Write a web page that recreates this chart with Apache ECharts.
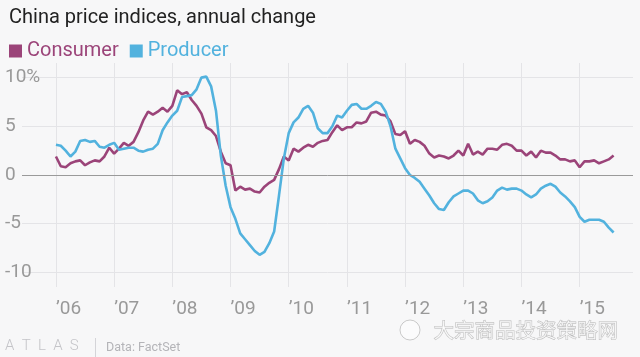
<!DOCTYPE html>
<html><head><meta charset="utf-8">
<script src="https://cdn.jsdelivr.net/npm/echarts@6/dist/echarts.min.js"></script>
<style>html,body{margin:0;padding:0;background:#f7f7f8}#c{width:640px;height:357px}</style>
</head><body><div id="c"></div>
<script>
// Axis spans Jun 2005 .. Dec 2015 (monthly categories); data start Jan 2006
const axisStartYear = 2005, axisStartMonth = 6, axisMonths = 127;
const dataStartYear = 2006, dataStartMonth = 1;

// Consumer price index, annual change (%), Jan 2006 .. Aug 2015
const consumer = [
 1.9,0.9,0.8,1.2,1.4,1.5,1.0,1.3,1.5,1.4,1.9,2.8,
 2.2,2.7,3.3,3.0,3.4,4.4,5.6,6.5,6.2,6.5,6.9,6.5,
 7.1,8.7,8.3,8.5,7.7,7.1,6.3,4.9,4.6,4.0,2.4,1.2,
 1.0,-1.6,-1.2,-1.5,-1.4,-1.7,-1.8,-1.2,-0.8,-0.5,0.6,1.9,
 1.5,2.7,2.4,2.8,3.1,2.9,3.3,3.5,3.6,4.4,5.1,4.6,
 4.9,4.9,5.4,5.3,5.5,6.4,6.5,6.2,6.1,5.5,4.2,4.1,
 4.5,3.2,3.6,3.4,3.0,2.2,1.8,2.0,1.9,1.7,2.0,2.5,
 2.0,3.2,2.1,2.4,2.1,2.7,2.7,2.6,3.1,3.2,3.0,2.5,
 2.5,2.0,2.4,1.8,2.5,2.3,2.3,2.0,1.6,1.6,1.4,1.5,
 0.8,1.4,1.4,1.5,1.2,1.4,1.6,2.0
];
// Producer price index, annual change (%), Jan 2006 .. Aug 2015
const producer = [
 3.1,3.0,2.5,1.9,2.4,3.5,3.6,3.4,3.5,2.9,2.8,3.1,
 3.3,2.6,2.7,2.8,2.8,2.5,2.4,2.6,2.7,3.2,4.6,5.4,
 6.1,6.6,8.0,8.1,8.2,8.8,10.0,10.1,9.1,6.6,2.0,-1.1,
 -3.3,-4.5,-6.0,-6.6,-7.2,-7.8,-8.2,-7.9,-7.0,-5.8,-2.1,1.7,
 4.3,5.4,5.9,6.8,7.1,6.4,4.8,4.3,4.3,5.0,6.1,5.9,
 6.6,7.2,7.3,6.8,6.8,7.1,7.5,7.3,6.5,5.0,2.7,1.7,
 0.7,0.0,-0.3,-0.7,-1.4,-2.1,-2.9,-3.5,-3.6,-2.8,-2.2,-1.9,
 -1.6,-1.6,-1.9,-2.6,-2.9,-2.7,-2.3,-1.6,-1.3,-1.5,-1.4,-1.4,
 -1.6,-2.0,-2.3,-2.0,-1.4,-1.1,-0.9,-1.2,-1.8,-2.2,-2.7,-3.3,
 -4.3,-4.8,-4.6,-4.6,-4.6,-4.8,-5.4,-5.9
];
const yTickLabels = {"10": "10%", "5": "5", "0": "0", "-5": "-5", "-10": "-10"};

const months = [];
for (let i = 0; i < axisMonths; i++) {
  const m = axisStartMonth - 1 + i;
  const y = axisStartYear + Math.floor(m / 12);
  const mm = (m % 12) + 1;
  months.push(y + '-' + (mm < 10 ? '0' : '') + mm);
}
const offset = (dataStartYear - axisStartYear) * 12 + (dataStartMonth - axisStartMonth);
const pad = arr => new Array(offset).fill(null).concat(arr);
const isJan = (idx, val) => String(val).slice(5) === '01';

const PURPLE = '#9b4479', BLUE = '#52b2de';
const chart = echarts.init(document.getElementById('c'), null, {renderer: 'canvas'});
const FONT = 'Roboto';
chart.setOption({
  animation: false,
  backgroundColor: '#f7f7f8',
  textStyle: {fontFamily: FONT},
  title: {
    text: 'China price indices, annual change',
    left: 4, top: 3,
    textStyle: {fontSize: 20, fontWeight: 'normal', color: '#222', fontFamily: FONT}
  },
  legend: {
    left: 4, top: 36, itemWidth: 13, itemHeight: 13, itemGap: 11,
    icon: 'rect', selectedMode: false,
    textStyle: {fontSize: 20, fontFamily: FONT},
    data: [
      {name: 'Consumer', itemStyle: {color: PURPLE}, textStyle: {color: PURPLE}},
      {name: 'Producer', itemStyle: {color: BLUE}, textStyle: {color: BLUE}}
    ]
  },
  grid: {left: 22, right: 7, top: 63, bottom: 70, containLabel: false},
  xAxis: {
    type: 'category', data: months, boundaryGap: false,
    axisLine: {show: false}, axisTick: {show: false},
    splitLine: {show: true, interval: isJan, lineStyle: {color: '#e4e4e7', width: 1}},
    axisLabel: {
      interval: isJan, align: 'left', margin: 13, color: '#999', fontSize: 19, fontFamily: FONT,
      formatter: v => "\u2019" + String(v).slice(2, 4)
    }
  },
  yAxis: {
    type: 'value', min: -11.5, max: 11.5, splitNumber: 5, minInterval: 5, maxInterval: 5,
    axisLine: {show: false}, axisTick: {show: false},
    splitLine: {show: true, lineStyle: {color: ['rgba(0,0,0,0)', '#e4e4e7', '#e4e4e7', '#e4e4e7', '#e4e4e7', '#e4e4e7', 'rgba(0,0,0,0)']}},
    axisLabel: {
      showMinLabel: false, showMaxLabel: false,
      align: 'left', margin: 17, color: '#999', fontSize: 19, fontFamily: FONT,
      formatter: v => yTickLabels[String(v)] !== undefined ? yTickLabels[String(v)] : ''
    }
  },
  series: [
    {
      name: 'Consumer', type: 'line', data: pad(consumer), showSymbol: false, symbol: 'none',
      lineStyle: {color: PURPLE, width: 2.6}, itemStyle: {color: PURPLE},
      markLine: {
        silent: true, symbol: ['none', 'none'], label: {show: false},
        lineStyle: {color: '#9a9a9a', width: 1, type: 'solid'},
        data: [{yAxis: 0}]
      }
    },
    {
      name: 'Producer', type: 'line', data: pad(producer), showSymbol: false, symbol: 'none',
      lineStyle: {color: BLUE, width: 2.6}, itemStyle: {color: BLUE}
    }
  ],
  graphic: [
    {type: 'text', left: 5, top: 339, style: {text: 'A  T  L  A  S', fill: '#c4c4c8', font: '300 15px ' + FONT}},
    {type: 'rect', shape: {x: 95, y: 338, width: 1, height: 19}, style: {fill: '#d4d4d8'}},
    {type: 'text', left: 106, top: 341, style: {text: 'Data: FactSet', fill: '#b4b4b8', font: '12.5px ' + FONT}},
    {type: 'text', left: 433, top: 320, style: {text: '大宗商品投资策略网', fill: 'rgba(255,255,255,0.6)', stroke: 'rgba(140,140,140,0.6)', lineWidth: 0.8, font: '20.5px "Noto Sans CJK SC"'}},
    {type: 'circle', shape: {cx: 410, cy: 330, r: 10}, style: {fill: 'rgba(255,255,255,0.5)', stroke: 'rgba(140,140,140,0.55)', lineWidth: 0.8}}
  ]
});
</script></body></html>
